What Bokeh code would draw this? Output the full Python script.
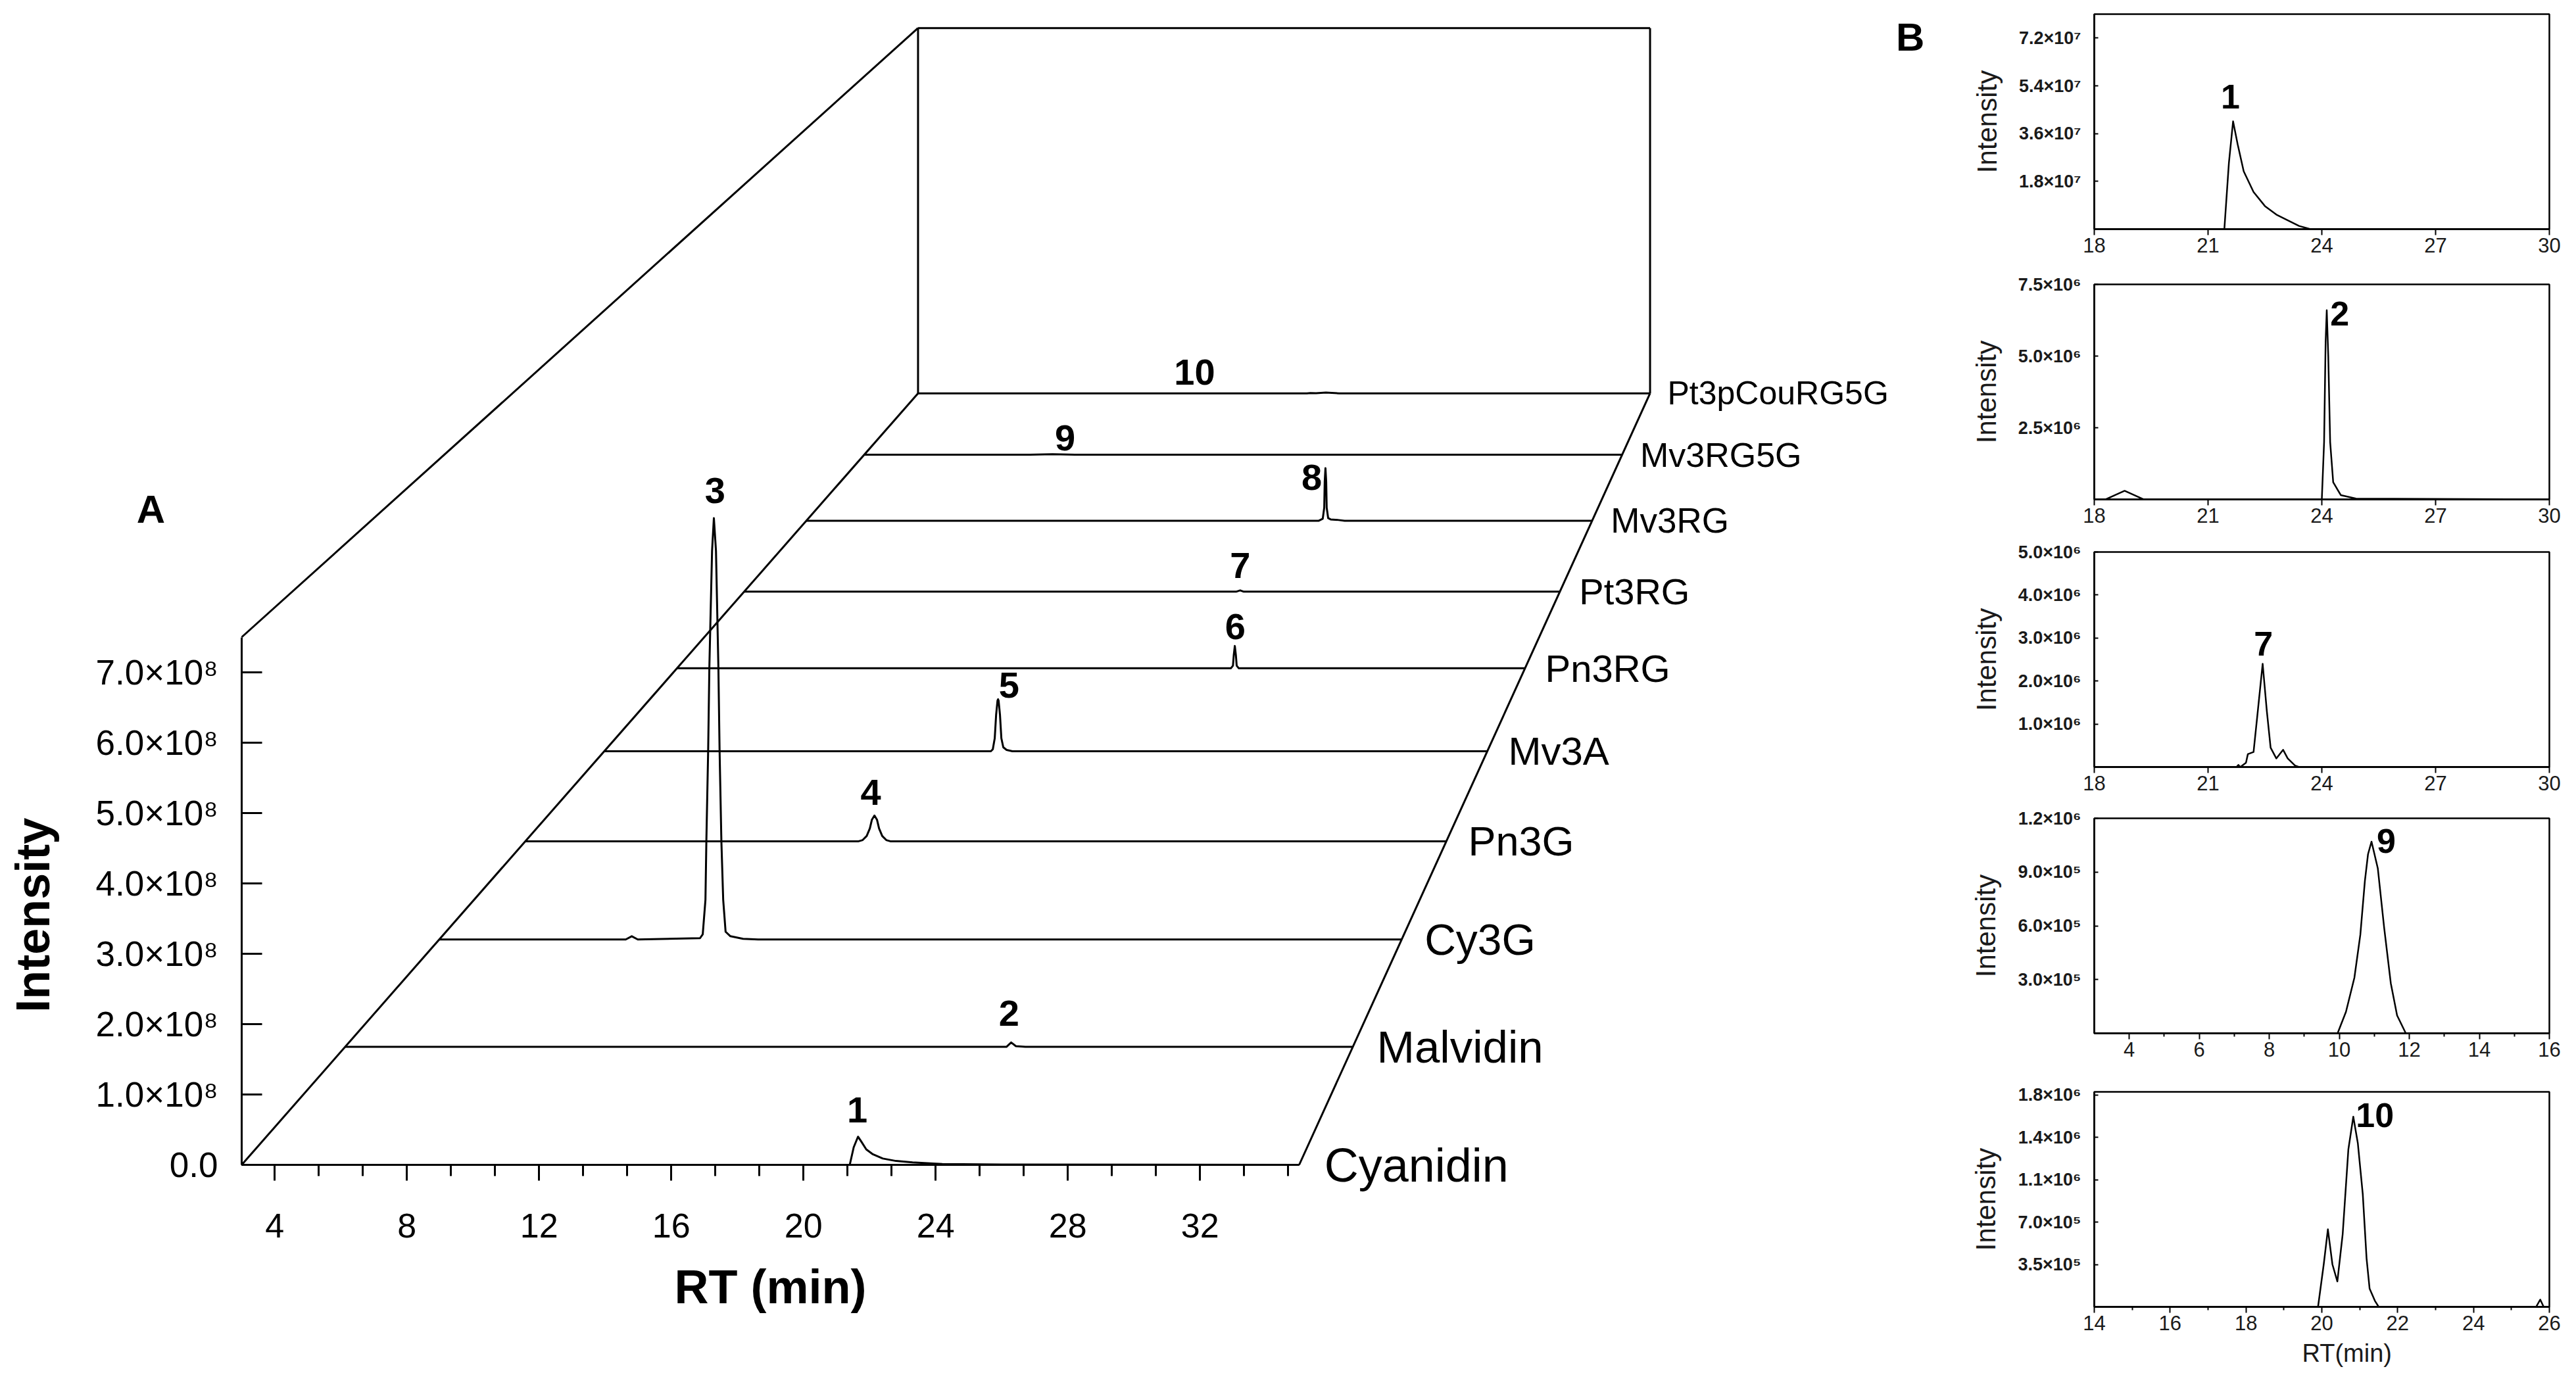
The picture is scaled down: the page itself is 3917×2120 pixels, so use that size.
import numpy as np
from bokeh.plotting import figure
from bokeh.models import Range1d, FixedTicker, Label, ColumnDataSource, Title
from bokeh.layouts import row, column
from bokeh.embed import file_html
from bokeh.resources import INLINE

FONT = "Liberation Sans"

# ---------------- Panel A data (retention time in min, intensity) ----------------
series_names = ["Cyanidin", "Malvidin", "Cy3G", "Pn3G", "Mv3A",
                "Pn3RG", "Pt3RG", "Mv3RG", "Mv3RG5G", "Pt3pCouRG5G"]

rt_cyanidin = [3, 21.40, 21.52, 21.65, 21.75, 21.9, 22.1, 22.4, 22.8, 23.3, 24.2, 26.0, 35]
int_cyanidin = [0, 0, 0.25e8, 0.40e8, 0.33e8, 0.22e8, 0.15e8, 0.09e8, 0.055e8, 0.035e8, 0.012e8, 0.005e8, 0]

rt_malvidin = [3, 24.0, 24.15, 24.3, 24.6, 35]
int_malvidin = [0, 0, 0.065e8, 0.01e8, 0, 0]

rt_cy3g = [3, 9.2, 9.4, 9.6, 11.67, 11.76, 11.85, 11.88, 11.94, 11.98, 12.07, 12.13,
           12.20, 12.28, 12.32, 12.38, 12.44, 12.52, 12.68, 13.1, 13.6, 35]
int_cy3g = [0, 0, 0.05e8, 0, 0.02e8, 0.08e8, 0.62e8, 1.53e8, 2.95e8, 4.25e8, 6.07e8, 6.58e8,
            6.07e8, 4.25e8, 2.95e8, 1.53e8, 0.62e8, 0.12e8, 0.05e8, 0.01e8, 0, 0]

rt_pn3g = [3, 14.58, 14.72, 14.86, 14.97, 15.04, 15.13, 15.22, 15.29, 15.40, 15.54, 15.68, 35]
int_pn3g = [0, 0, 0.02e8, 0.086e8, 0.21e8, 0.35e8, 0.42e8, 0.35e8, 0.21e8, 0.086e8, 0.02e8, 0, 0]

rt_mv3a = [3, 17.01, 17.08, 17.15, 17.20, 17.25, 17.27, 17.29, 17.34, 17.39, 17.46, 17.58, 17.79, 35]
int_mv3a = [0, 0, 0.034e8, 0.22e8, 0.62e8, 0.86e8, 0.884e8, 0.86e8, 0.62e8, 0.22e8, 0.067e8, 0.022e8, 0, 0]

rt_pn3rg = [3, 23.90, 23.98, 24.01, 24.05, 24.09, 24.12, 24.20, 35]
int_pn3rg = [0, 0, 0.047e8, 0.233e8, 0.396e8, 0.233e8, 0.047e8, 0, 0]

rt_pt3rg = [3, 22.3, 22.46, 22.6, 35]
int_pt3rg = [0, 0, 0.024e8, 0, 0]

rt_mv3rg = [3, 23.87, 24.03, 24.09, 24.11, 24.14, 24.17, 24.19, 24.25, 24.35, 24.68, 24.92, 35]
int_mv3rg = [0, 0, 0.038e8, 0.25e8, 0.75e8, 1.006e8, 0.75e8, 0.25e8, 0.05e8, 0.025e8, 0.013e8, 0, 0]

rt_mv3rg5g = [3, 10.0, 10.95, 11.9, 35]
int_mv3rg5g = [0, 0, 0.011e8, 0, 0]

rt_pt3pcourg5g = [3, 20.0, 20.15, 20.4, 20.83, 21.4, 35]
int_pt3pcourg5g = [0, 0, 0.006e8, 0.002e8, 0.016e8, 0, 0]

traces_rt = [rt_cyanidin, rt_malvidin, rt_cy3g, rt_pn3g, rt_mv3a,
             rt_pn3rg, rt_pt3rg, rt_mv3rg, rt_mv3rg5g, rt_pt3pcourg5g]
traces_int = [int_cyanidin, int_malvidin, int_cy3g, int_pn3g, int_mv3a,
              int_pn3rg, int_pt3rg, int_mv3rg, int_mv3rg5g, int_pt3pcourg5g]

peak_nums = ["1", "2", "3", "4", "5", "6", "7", "8", "9", "10"]
peak_label_rt = [21.63, 24.08, 12.17, 15.00, 17.67, 24.07, 22.46, 23.58, 11.48, 15.09]
peak_label_int = [0.785e8, 0.50e8, 7.01e8, 0.80e8, 1.12e8, 0.74e8, 0.48e8, 0.83e8, 0.34e8, 0.43e8]

RT_MIN, RT_MAX = 3, 35
I_TOP = 7.5e8
x_ticks_A = [4, 8, 12, 16, 20, 24, 28, 32]
y_ticks_A = [0, 1e8, 2e8, 3e8, 4e8, 5e8, 6e8, 7e8]
y_labels_A = ["0.0", "1.0×10⁸", "2.0×10⁸", "3.0×10⁸", "4.0×10⁸",
              "5.0×10⁸", "6.0×10⁸", "7.0×10⁸"]

# perspective of the waterfall: vanishing point (in front-plane data units) and depth factor
VP_RT, VP_I, PERSP = 69.5, 35.63e8, 0.0494


def scale_at(z):
    return 1.0 / (1.0 + PERSP * z)


def proj(rt, inten, z):
    s = scale_at(z)
    rt = np.asarray(rt, dtype=float)
    inten = np.asarray(inten, dtype=float)
    return VP_RT + s * (rt - VP_RT), VP_I + s * (inten - VP_I)


PX_PER_MIN = 50.25
PX_PER_INT = 107.0 / 1e8
A_W, A_H = 2932, 2097
AX_LEFT_PX, AX_BOTTOM_PX = 367, 326   # position of the front axes inside figure A
x0A = RT_MIN - AX_LEFT_PX / PX_PER_MIN
y0A = -AX_BOTTOM_PX / PX_PER_INT

pA = figure(width=A_W, height=A_H,
            x_range=Range1d(x0A, x0A + A_W / PX_PER_MIN),
            y_range=Range1d(y0A, y0A + A_H / PX_PER_INT),
            min_border=0, min_border_left=0, min_border_right=0,
            min_border_top=0, min_border_bottom=0,
            output_backend="svg", toolbar_location=None)
pA.xgrid.visible = False
pA.ygrid.visible = False
pA.outline_line_color = None
pA.background_fill_color = "white"
pA.border_fill_color = "white"

xa = pA.xaxis[0]
xa.fixed_location = 0
xa.bounds = (RT_MIN, RT_MAX)
xa.ticker = FixedTicker(ticks=x_ticks_A, minor_ticks=[4 + k * 4.0 / 3.0 for k in range(24)])
xa.major_tick_out = 24
xa.major_tick_in = 0
xa.minor_tick_out = 17
xa.minor_tick_in = 0
xa.axis_line_width = 3
xa.major_tick_line_width = 3
xa.minor_tick_line_width = 3
xa.axis_line_color = "black"
xa.major_tick_line_color = "black"
xa.minor_tick_line_color = "black"
xa.major_label_text_font = FONT
xa.major_label_text_font_size = "52px"
xa.major_label_text_color = "black"
xa.major_label_standoff = 50

ya = pA.yaxis[0]
ya.fixed_location = RT_MIN
ya.bounds = (0, I_TOP)
ya.ticker = FixedTicker(ticks=y_ticks_A, minor_ticks=[])
ya.major_label_overrides = {t: l for t, l in zip(y_ticks_A, y_labels_A)}
ya.major_tick_in = 31
ya.major_tick_out = 0
ya.minor_tick_in = 0
ya.minor_tick_out = 0
ya.axis_line_width = 3
ya.major_tick_line_width = 3
ya.axis_line_color = "black"
ya.major_tick_line_color = "black"
ya.major_label_text_font = FONT
ya.major_label_text_font_size = "53px"
ya.major_label_text_color = "black"
ya.major_label_standoff = 36

# frame box of the 3D waterfall
nz = len(series_names) - 1
box_edges = [
    ((RT_MIN, 0, 0), (RT_MIN, 0, nz)),
    ((RT_MAX, 0, 0), (RT_MAX, 0, nz)),
    ((RT_MIN, I_TOP, 0), (RT_MIN, I_TOP, nz)),
    ((RT_MIN, 0, nz), (RT_MIN, I_TOP, nz)),
    ((RT_MIN, I_TOP, nz), (RT_MAX, I_TOP, nz)),
    ((RT_MAX, I_TOP, nz), (RT_MAX, 0, nz)),
]
bx, by = [], []
for a, b in box_edges:
    xs0, ys0 = proj(a[0], a[1], a[2])
    xs1, ys1 = proj(b[0], b[1], b[2])
    bx.append([float(xs0), float(xs1)])
    by.append([float(ys0), float(ys1)])
pA.multi_line(bx, by, line_color="black", line_width=3)

# chromatogram traces
for z, (rt, inten) in enumerate(zip(traces_rt, traces_int)):
    x, y = proj(rt, inten, z)
    pA.line(x, y, line_color="black", line_width=3, line_join="round")

# series names
zs = np.arange(len(series_names))
lx, ly = proj(np.full(len(zs), RT_MAX + 0.76), np.zeros(len(zs)), zs)
lab_src = ColumnDataSource(dict(
    x=lx, y=ly, text=series_names,
    fs=["%.0fpx" % (72 * scale_at(z)) for z in zs]))
pA.text(x="x", y="y", text="text", source=lab_src, text_font_size="fs",
        text_font={"value": FONT}, text_align="left", text_baseline="middle",
        text_color="black")

# peak numbers
px_, py_ = proj(peak_label_rt, peak_label_int, zs)
pk_src = ColumnDataSource(dict(x=px_, y=py_, text=peak_nums))
pA.text(x="x", y="y", text="text", source=pk_src, text_font_size="56px",
        text_font={"value": FONT}, text_font_style="bold", text_align="center",
        text_baseline="middle", text_color="black")

pA.add_layout(Label(x=0.254, y=9.318e8, text="A", text_font=FONT, text_font_size="60px",
                    text_font_style="bold", text_align="center", text_baseline="middle",
                    text_color="black"))
pA.add_layout(Label(x=-3.31, y=3.55e8, text="Intensity", angle=np.pi / 2, text_font=FONT,
                    text_font_size="72px", text_font_style="bold", text_align="center",
                    text_baseline="middle", text_color="black"))
pA.add_layout(Label(x=19.0, y=-1.73e8, text="RT (min)", text_font=FONT,
                    text_font_size="72px", text_font_style="bold", text_align="center",
                    text_baseline="middle", text_color="black"))
pA.add_layout(Label(x=53.49, y=16.03e8, text="B", text_font=FONT, text_font_size="60px",
                    text_font_style="bold", text_align="center", text_baseline="middle",
                    text_color="black"))

# ---------------- Panel B data ----------------
b1_rt = [18, 21.43, 21.55, 21.66, 21.78, 21.94, 22.2, 22.5, 22.8, 23.06, 23.4, 23.7, 30]
b1_int = [0, 0, 2.5e7, 4.06e7, 3.2e7, 2.18e7, 1.4e7, 0.87e7, 0.55e7, 0.36e7, 0.12e7, 0, 0]

b2_rt = [18, 18.3, 18.55, 18.8, 19.05, 19.3, 24.0, 24.06, 24.1, 24.13, 24.17, 24.22, 24.3,
         24.5, 24.9, 30]
b2_int = [0, 0, 0.15e6, 0.3e6, 0.15e6, 0, 0, 2.0e6, 5.5e6, 6.6e6, 5.0e6, 2.0e6, 0.6e6,
          0.15e6, 0.03e6, 0]

b3_rt = [18, 21.75, 21.8, 21.85, 22.0, 22.05, 22.2, 22.3, 22.44, 22.55, 22.65, 22.8, 22.98,
         23.1, 23.3, 23.4, 30]
b3_int = [0, 0, 0.05e6, 0, 0.1e6, 0.3e6, 0.35e6, 1.2e6, 2.4e6, 1.3e6, 0.45e6, 0.2e6, 0.4e6,
          0.2e6, 0.03e6, 0, 0]

b4_rt = [3, 9.95, 10.19, 10.43, 10.6, 10.73, 10.82, 10.92, 11.1, 11.28, 11.47, 11.65, 11.9, 16]
b4_int = [0, 0, 0.12e6, 0.31e6, 0.55e6, 0.85e6, 1.0e6, 1.07e6, 0.92e6, 0.59e6, 0.28e6,
          0.1e6, 0, 0]

b5_rt = [14, 19.9, 20.05, 20.16, 20.28, 20.41, 20.55, 20.7, 20.83, 20.95, 21.08, 21.18, 21.26,
         21.4, 21.5, 25.65, 25.76, 25.85, 26]
b5_int = [0, 0, 0.35e6, 0.64e6, 0.35e6, 0.21e6, 0.6e6, 1.3e6, 1.57e6, 1.35e6, 0.93e6, 0.4e6,
          0.15e6, 0.05e6, 0, 0, 0.06e6, 0, 0]

b1_yticks = [1.8e7, 3.6e7, 5.4e7, 7.2e7]
b1_ylabels = ["1.8×10⁷", "3.6×10⁷", "5.4×10⁷", "7.2×10⁷"]
b2_yticks = [2.5e6, 5.0e6, 7.5e6]
b2_ylabels = ["2.5×10⁶", "5.0×10⁶", "7.5×10⁶"]
b3_yticks = [1.0e6, 2.0e6, 3.0e6, 4.0e6, 5.0e6]
b3_ylabels = ["1.0×10⁶", "2.0×10⁶", "3.0×10⁶", "4.0×10⁶", "5.0×10⁶"]
b4_yticks = [3.0e5, 6.0e5, 9.0e5, 1.2e6]
b4_ylabels = ["3.0×10⁵", "6.0×10⁵", "9.0×10⁵", "1.2×10⁶"]
b5_yticks = [3.5e5, 7.0e5, 1.05e6, 1.4e6, 1.75e6]
b5_ylabels = ["3.5×10⁵", "7.0×10⁵", "1.1×10⁶", "1.4×10⁶", "1.8×10⁶"]

b_xticks_18_30 = [18, 21, 24, 27, 30]
b_xticks_4_16 = [4, 6, 8, 10, 12, 14, 16]
b_xticks_14_26 = [14, 16, 18, 20, 22, 24, 26]

b_peak = [("1", 21.59, 5.0e7), ("2", 24.47, 6.49e6), ("7", 22.46, 2.86e6),
          ("9", 11.34, 1.075e6), ("10", 21.40, 1.585e6)]

B_W = 3901 - A_W
B_LEFT = 3192 - (8 + A_W)


def make_b(rt, inten, xr, yr, xticks, xminor, yticks, ylabels, top, bottom, peak, xlabel=None):
    h = top + 327 + bottom
    p = figure(width=B_W, height=h, x_range=Range1d(*xr), y_range=Range1d(*yr),
               min_border_left=B_LEFT, min_border_right=B_W - B_LEFT - 692,
               min_border_top=top, min_border_bottom=bottom,
               output_backend="svg", toolbar_location=None)
    p.xgrid.visible = False
    p.ygrid.visible = False
    p.outline_line_color = "black"
    p.outline_line_width = 2.5
    p.line(rt, inten, line_color="black", line_width=2.5, line_join="round")
    xa = p.xaxis[0]
    xa.ticker = FixedTicker(ticks=xticks, minor_ticks=xminor)
    xa.major_tick_out = 9
    xa.major_tick_in = 0
    xa.minor_tick_out = 5
    xa.minor_tick_in = 0
    xa.axis_line_width = 2.5
    xa.major_tick_line_width = 2
    xa.minor_tick_line_width = 2
    xa.major_label_text_font = FONT
    xa.major_label_text_font_size = "31px"
    xa.major_label_text_color = "#1a1a1a"
    xa.major_label_standoff = 4
    if xlabel:
        p.add_layout(Title(text=xlabel, align="left", offset=316, text_font=FONT,
                           text_font_size="38px", text_font_style="normal",
                           text_color="#1a1a1a", standoff=18), "below")
    ya = p.yaxis[0]
    ya.ticker = FixedTicker(ticks=yticks, minor_ticks=[])
    ya.major_label_overrides = {t: l for t, l in zip(yticks, ylabels)}
    ya.major_tick_out = 0
    ya.major_tick_in = 6
    ya.minor_tick_in = 0
    ya.minor_tick_out = 0
    ya.axis_line_width = 2.5
    ya.major_tick_line_width = 2
    ya.major_label_text_font = FONT
    ya.major_label_text_font_size = "27px"
    ya.major_label_text_font_style = "bold"
    ya.major_label_text_color = "#1a1a1a"
    ya.major_label_standoff = 20
    ya.axis_label = "Intensity"
    ya.axis_label_text_font = FONT
    ya.axis_label_text_font_size = "42px"
    ya.axis_label_text_font_style = "normal"
    ya.axis_label_text_color = "#1a1a1a"
    ya.axis_label_standoff = 22
    p.add_layout(Label(x=peak[1], y=peak[2], text=peak[0], text_font=FONT,
                       text_font_size="52px", text_font_style="bold", text_color="black",
                       text_align="center", text_baseline="middle"))
    return p


b1 = make_b(b1_rt, b1_int, (18, 30), (0, 8.1e7), b_xticks_18_30, [], b1_yticks, b1_ylabels,
            21, 60, b_peak[0])
b2 = make_b(b2_rt, b2_int, (18, 30), (0, 7.5e6), b_xticks_18_30, [], b2_yticks, b2_ylabels,
            24, 55, b_peak[1])
b3 = make_b(b3_rt, b3_int, (18, 30), (0, 5.0e6), b_xticks_18_30, [], b3_yticks, b3_ylabels,
            25, 53, b_peak[2])
b4 = make_b(b4_rt, b4_int, (3, 16), (0, 1.2e6), b_xticks_4_16, [5, 7, 9, 11, 13, 15],
            b4_yticks, b4_ylabels, 25, 60, b_peak[3])
b5 = make_b(b5_rt, b5_int, (14, 26), (0, 1.775e6), b_xticks_14_26, [15, 17, 19, 21, 23, 25],
            b5_yticks, b5_ylabels, 29, 110, b_peak[4], xlabel="RT(min)")

layout = row(pA, column(b1, b2, b3, b4, b5))
open("out.html", "w").write(file_html(layout, INLINE))
